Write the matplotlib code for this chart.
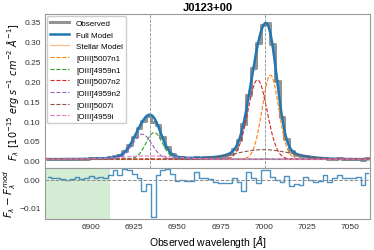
import numpy as np
import matplotlib
matplotlib.use('Agg')
import matplotlib.pyplot as plt

# --- data ---
wl_start, wl_step = 6875.0, 2.77
observed = [0.005, 0.0046, 0.0045, 0.0042, 0.004, 0.0046, 0.0053, 0.0048, 0.0052, 0.0061,
            0.0058, 0.0068, 0.0071, 0.0093, 0.013, 0.0150, 0.025, 0.040, 0.060, 0.083,
            0.099, 0.113, 0.098, 0.089, 0.059, 0.034, 0.018, 0.0101, 0.0083, 0.0071,
            0.0066, 0.01, 0.0076, 0.0082, 0.0086, 0.0086, 0.0101, 0.0125, 0.0172, 0.0293,
            0.0516, 0.0929, 0.1648, 0.235, 0.2964, 0.3428, 0.3464, 0.2934, 0.2007, 0.1094,
            0.0542, 0.0246, 0.0157, 0.0119, 0.0123, 0.0096, 0.0071, 0.0063, 0.0079, 0.0045,
            0.0055, 0.0064, 0.0049, 0.0047, 0.0046, 0.0051, 0.0021, 0.0065]
residual = [1.0, 0.6, 0.5, 0.1, -0.1, 0.4, 1.0, 0.4, 0.5, 1.2, 0.5, 1.0, 0.6, 1.9, 3.7, 1.9,
            4.0, 3.7, 2.2, 0.6, -4.2, -1.5, -13.5, 1.9, 3.7, 4.0, 2.2, -0.4, -0.1, -0.4, -0.5,
            3.0, 0.5, 0.6, 0.2, -1.0, -1.2, -1.2, -1.1, 0.5, -1.0, -4.3, 2.7, 0.6, -1.2, 3.5,
            3.5, 1.0, 0.0, -1.0, 1.5, -2.2, -1.7, -1.8, 0.9, 0.0, -1.0, -0.6, 1.9, -0.8, 0.6,
            1.9, 0.6, 0.5, 0.5, 1.0, -1.9, 2.5]  # units of 1e-3

stellar_level = 0.004
# gaussian components: name, amplitude, centre, sigma
comp_names = ['[OIII]5007n1', '[OIII]4959n1', '[OIII]5007n2', '[OIII]4959n2', '[OIII]5007i', '[OIII]4959i']
comp_amp = [0.212, 0.067, 0.200, 0.063, 0.024, 0.008]
comp_cen = [7004.0, 6936.5, 6996.5, 6929.5, 7000.0, 6933.0]
comp_sig = [4.8, 4.8, 5.6, 5.6, 16.0, 16.0]
comp_colors = ['tab:orange', 'tab:green', 'tab:red', 'tab:purple', 'tab:brown', 'tab:pink']

line_centres = [6934.0, 7001.0]
masked_region = [6873.0, 6911.0]
title = 'J0123+00'

# --- figure ---
plt.rcParams['font.family'] = ['Liberation Sans', 'DejaVu Sans']
plt.rcParams['mathtext.fontset'] = 'dejavusans'

wl = wl_start + wl_step * np.arange(len(observed))
res = np.array(residual) * 1e-3
grid = np.linspace(6873, 7062, 1000)

def gauss(x, a, c, s):
    return a * np.exp(-0.5 * ((x - c) / s) ** 2)

fig, (ax, axr) = plt.subplots(2, 1, figsize=(3.74, 2.51), dpi=100, sharex=True,
                              gridspec_kw={'height_ratios': [3, 1], 'hspace': 0})
fig.subplots_adjust(left=0.12, right=0.99, top=0.94, bottom=0.124)

ax.step(wl, observed, where='mid', color='gray', lw=2.2, alpha=0.85, label='Observed')
full = np.full_like(grid, stellar_level)
for a, c, s in zip(comp_amp, comp_cen, comp_sig):
    full += gauss(grid, a, c, s)
ax.plot(grid, full, color='tab:blue', lw=1.8, label='Full Model')
ax.plot(grid, np.full_like(grid, stellar_level), color='tab:orange', lw=0.9, alpha=0.5,
        label='Stellar Model')
for name, a, c, s, col in zip(comp_names, comp_amp, comp_cen, comp_sig, comp_colors):
    ax.plot(grid, stellar_level + gauss(grid, a, c, s), '--', color=col, lw=0.8, label=name)
for lc in line_centres:
    ax.axvline(lc, color='0.55', ls='--', lw=0.6)

ax.set_ylim(-0.0175, 0.37)
ax.set_yticks(np.arange(0, 0.36, 0.05))
ax.set_title(title, fontsize=8, weight='bold', pad=3)
ax.set_ylabel(r'$F_\lambda\ [10^{-15}\ erg\ s^{-1}\ cm^{-2}\ \AA^{-1}]$', fontsize=7, labelpad=2)
ax.legend(loc='upper left', fontsize=5.8, handlelength=2.4, labelspacing=0.5,
          borderaxespad=0.25, framealpha=1, edgecolor='0.8')

axr.step(wl, res, where='mid', color='tab:blue', lw=1.0, alpha=0.8)
axr.axhline(0, color='0.55', ls='--', lw=0.7)
axr.axvspan(masked_region[0], masked_region[1], color='tab:green', alpha=0.2, lw=0)
axr.set_ylim(-0.0143, 0.0044)
axr.set_yticks([-0.01, 0.0])
axr.set_xlim(6873, 7062)
axr.set_xticks([6900, 6925, 6950, 6975, 7000, 7025, 7050])
axr.set_xlabel(r'Observed wavelength [$\AA$]', fontsize=7.5, labelpad=2)
axr.set_ylabel(r'$F_\lambda - F_\lambda^{mod}$', fontsize=7.5, labelpad=1)

for a_ in (ax, axr):
    for sp in a_.spines.values():
        sp.set_color('0.6')
        sp.set_linewidth(0.8)
    a_.tick_params(length=0, labelsize=6, colors='0.2', pad=3)

fig.savefig('out.png', dpi=100)
